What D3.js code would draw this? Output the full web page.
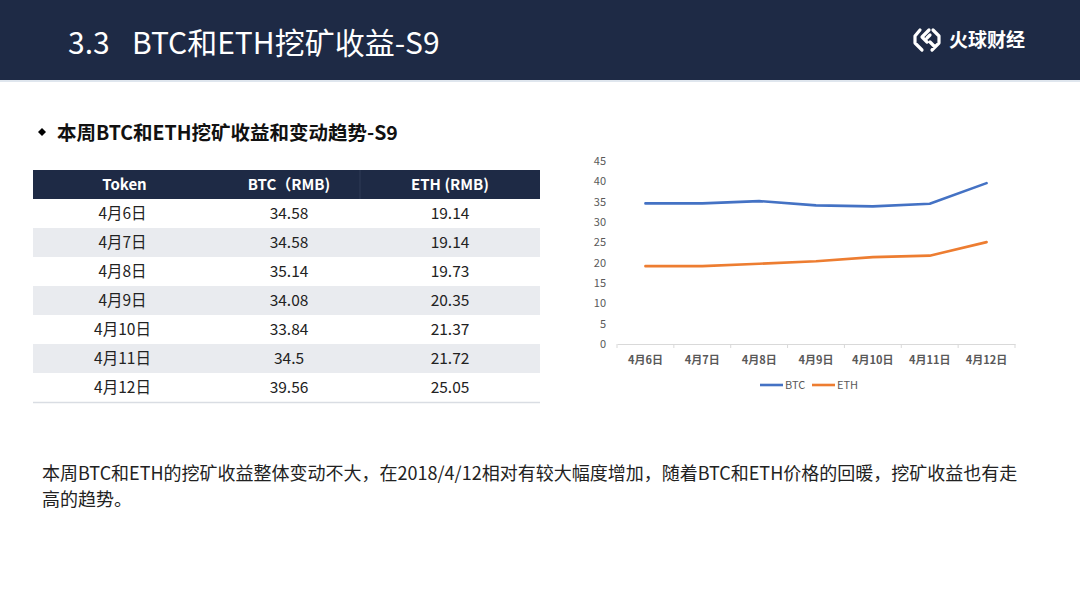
<!DOCTYPE html>
<html><head><meta charset="utf-8">
<script src="https://cdn.jsdelivr.net/npm/d3@7"></script>
<style>
html,body{margin:0;padding:0;background:#fff;}
svg{display:block;font-family:"Noto Sans CJK SC","Noto Sans",sans-serif;}
</style></head>
<body>
<svg id="c" width="1080" height="608"></svg>
<script>
const categories = ["4月6日","4月7日","4月8日","4月9日","4月10日","4月11日","4月12日"];
const btcValues = [34.58,34.58,35.14,34.08,33.84,34.5,39.56];
const ethValues = [19.14,19.14,19.73,20.35,21.37,21.72,25.05];
const btcLabels = ["34.58","34.58","35.14","34.08","33.84","34.5","39.56"];
const ethLabels = ["19.14","19.14","19.73","20.35","21.37","21.72","25.05"];
const yTicks = [0,5,10,15,20,25,30,35,40,45];
const tableHeaders = ["Token","BTC（RMB)","ETH (RMB)"];
const seriesNames = ["BTC","ETH"];
const colors = ["#4472C4","#ED7D31"];
const paragraphLines = ["本周BTC和ETH的挖矿收益整体变动不大，在2018/4/12相对有较大幅度增加，随着BTC和ETH价格的回暖，挖矿收益也有走","高的趋势。"];

const svg = d3.select("#c");
const navy = "#1e2a45";

// header bar
svg.append("rect").attr("x",0).attr("y",0).attr("width",1080).attr("height",80).attr("fill",navy);
svg.append("rect").attr("x",0).attr("y",80).attr("width",1080).attr("height",2).attr("fill","#dfe6ee");
svg.append("text").attr("x",68).attr("y",54).attr("fill","#fff").attr("font-size",30).text("3.3");
svg.append("text").attr("x",132).attr("y",54).attr("fill","#fff").attr("font-size",30).text("BTC和ETH挖矿收益-S9");

// logo
const lg = svg.append("g").attr("transform","translate(921,40)");
lg.append("path").attr("d","M8,-10 L1,-3 L6,2 M-1,-10 L-6,-4 L-6,3 L1,10 M6,-2 L9,-5 M12,-10 L18,-4 L18,3 L11,10 M9,2 L14,7")
  .attr("fill","none").attr("stroke","#fff").attr("stroke-width",3.2).attr("stroke-linejoin","round").attr("stroke-linecap","round");
svg.append("text").attr("x",949).attr("y",47).attr("fill","#fff").attr("font-size",19).attr("font-weight",700)
  .text("火球财经");

// subtitle
svg.append("path").attr("d","M42,128 L46,132 L42,136 L38,132 Z").attr("fill","#000");
svg.append("text").attr("x",57).attr("y",140).attr("font-size",19.5).attr("font-weight",700).attr("fill","#111")
  .text("本周BTC和ETH挖矿收益和变动趋势-S9");

// table
const colX = [33,218,360,540];
const headerY = 170, headerH = 29, rowH = 29;
svg.append("rect").attr("x",33).attr("y",headerY).attr("width",507).attr("height",headerH).attr("fill",navy);
svg.append("line").attr("x1",360).attr("x2",360).attr("y1",headerY).attr("y2",headerY+headerH).attr("stroke","#2f3b57").attr("stroke-width",1);
tableHeaders.forEach((h,i)=>{
  svg.append("text").attr("x",(colX[i]+colX[i+1])/2 + (i===0?-1:0)).attr("y",headerY+20).attr("text-anchor","middle")
    .attr("fill","#fff").attr("font-size",15).attr("font-weight",700).text(h);
});
const rows = categories.map((c,i)=>[c,btcLabels[i],ethLabels[i]]);
const rg = svg.append("g");
rows.forEach((r,i)=>{
  const y = headerY+headerH + i*rowH;
  rg.append("rect").attr("x",33).attr("y",y).attr("width",507).attr("height",rowH)
    .attr("fill", i%2===1 ? "#e9ebef" : "#ffffff");
  r.forEach((v,j)=>{
    rg.append("text").attr("x",(colX[j]+colX[j+1])/2 + (j===0?-3:0)).attr("y",y+20).attr("text-anchor","middle")
      .attr("fill","#222").attr("font-size",15.5).text(v);
  });
});
svg.append("line").attr("x1",33).attr("x2",540).attr("y1",headerY+headerH+7*rowH+0.5).attr("y2",headerY+headerH+7*rowH+0.5)
  .attr("stroke","#d9dde3").attr("stroke-width",1.5);

// chart
const x = d3.scaleBand().domain(categories).range([617,1015]);
const y = d3.scaleLinear().domain([0,45]).range([344,161]);
const cg = svg.append("g");
cg.selectAll(".yl").data(yTicks).enter().append("text")
  .attr("x",606).attr("y",d=>y(d)+4).attr("text-anchor","end")
  .attr("font-size",11).attr("fill","#595959").text(d=>d);
const xAxis = d3.axisBottom(x).tickSize(0).tickPadding(12);
const xa = cg.append("g").attr("transform","translate(0,344)").call(xAxis);
xa.select(".domain").attr("stroke","#d9d9d9").attr("stroke-width",1);
xa.selectAll("text").attr("font-size",11).attr("font-weight",700).attr("fill","#595959")
  .attr("font-family","'Noto Sans CJK SC',sans-serif");
const bounds = categories.map(c=>x(c)).concat([x.range()[1]]);
cg.selectAll(".bt").data(bounds).enter().append("line")
  .attr("x1",d=>d).attr("x2",d=>d).attr("y1",344).attr("y2",348).attr("stroke","#d9d9d9");

const line = d3.line().x((d,i)=>x(categories[i])+x.bandwidth()/2).y(d=>y(d)).curve(d3.curveLinear);
[btcValues,ethValues].forEach((vals,k)=>{
  cg.append("path").attr("d",line(vals)).attr("fill","none").attr("stroke",colors[k])
    .attr("stroke-width",2.6).attr("stroke-linecap","round").attr("stroke-linejoin","round");
});
const legX = [760,812];
seriesNames.forEach((n,k)=>{
  cg.append("line").attr("x1",legX[k]).attr("x2",legX[k]+23).attr("y1",385).attr("y2",385)
    .attr("stroke",colors[k]).attr("stroke-width",2.6);
  cg.append("text").attr("x",legX[k]+25).attr("y",389).attr("font-size",11).attr("fill","#595959").text(n);
});

// paragraph
const paraY = [480,506];
paragraphLines.forEach((t,i)=>{
  svg.append("text").attr("x",42).attr("y",paraY[i]).attr("font-size",18).attr("fill","#222").text(t);
});
</script>
</body></html>
